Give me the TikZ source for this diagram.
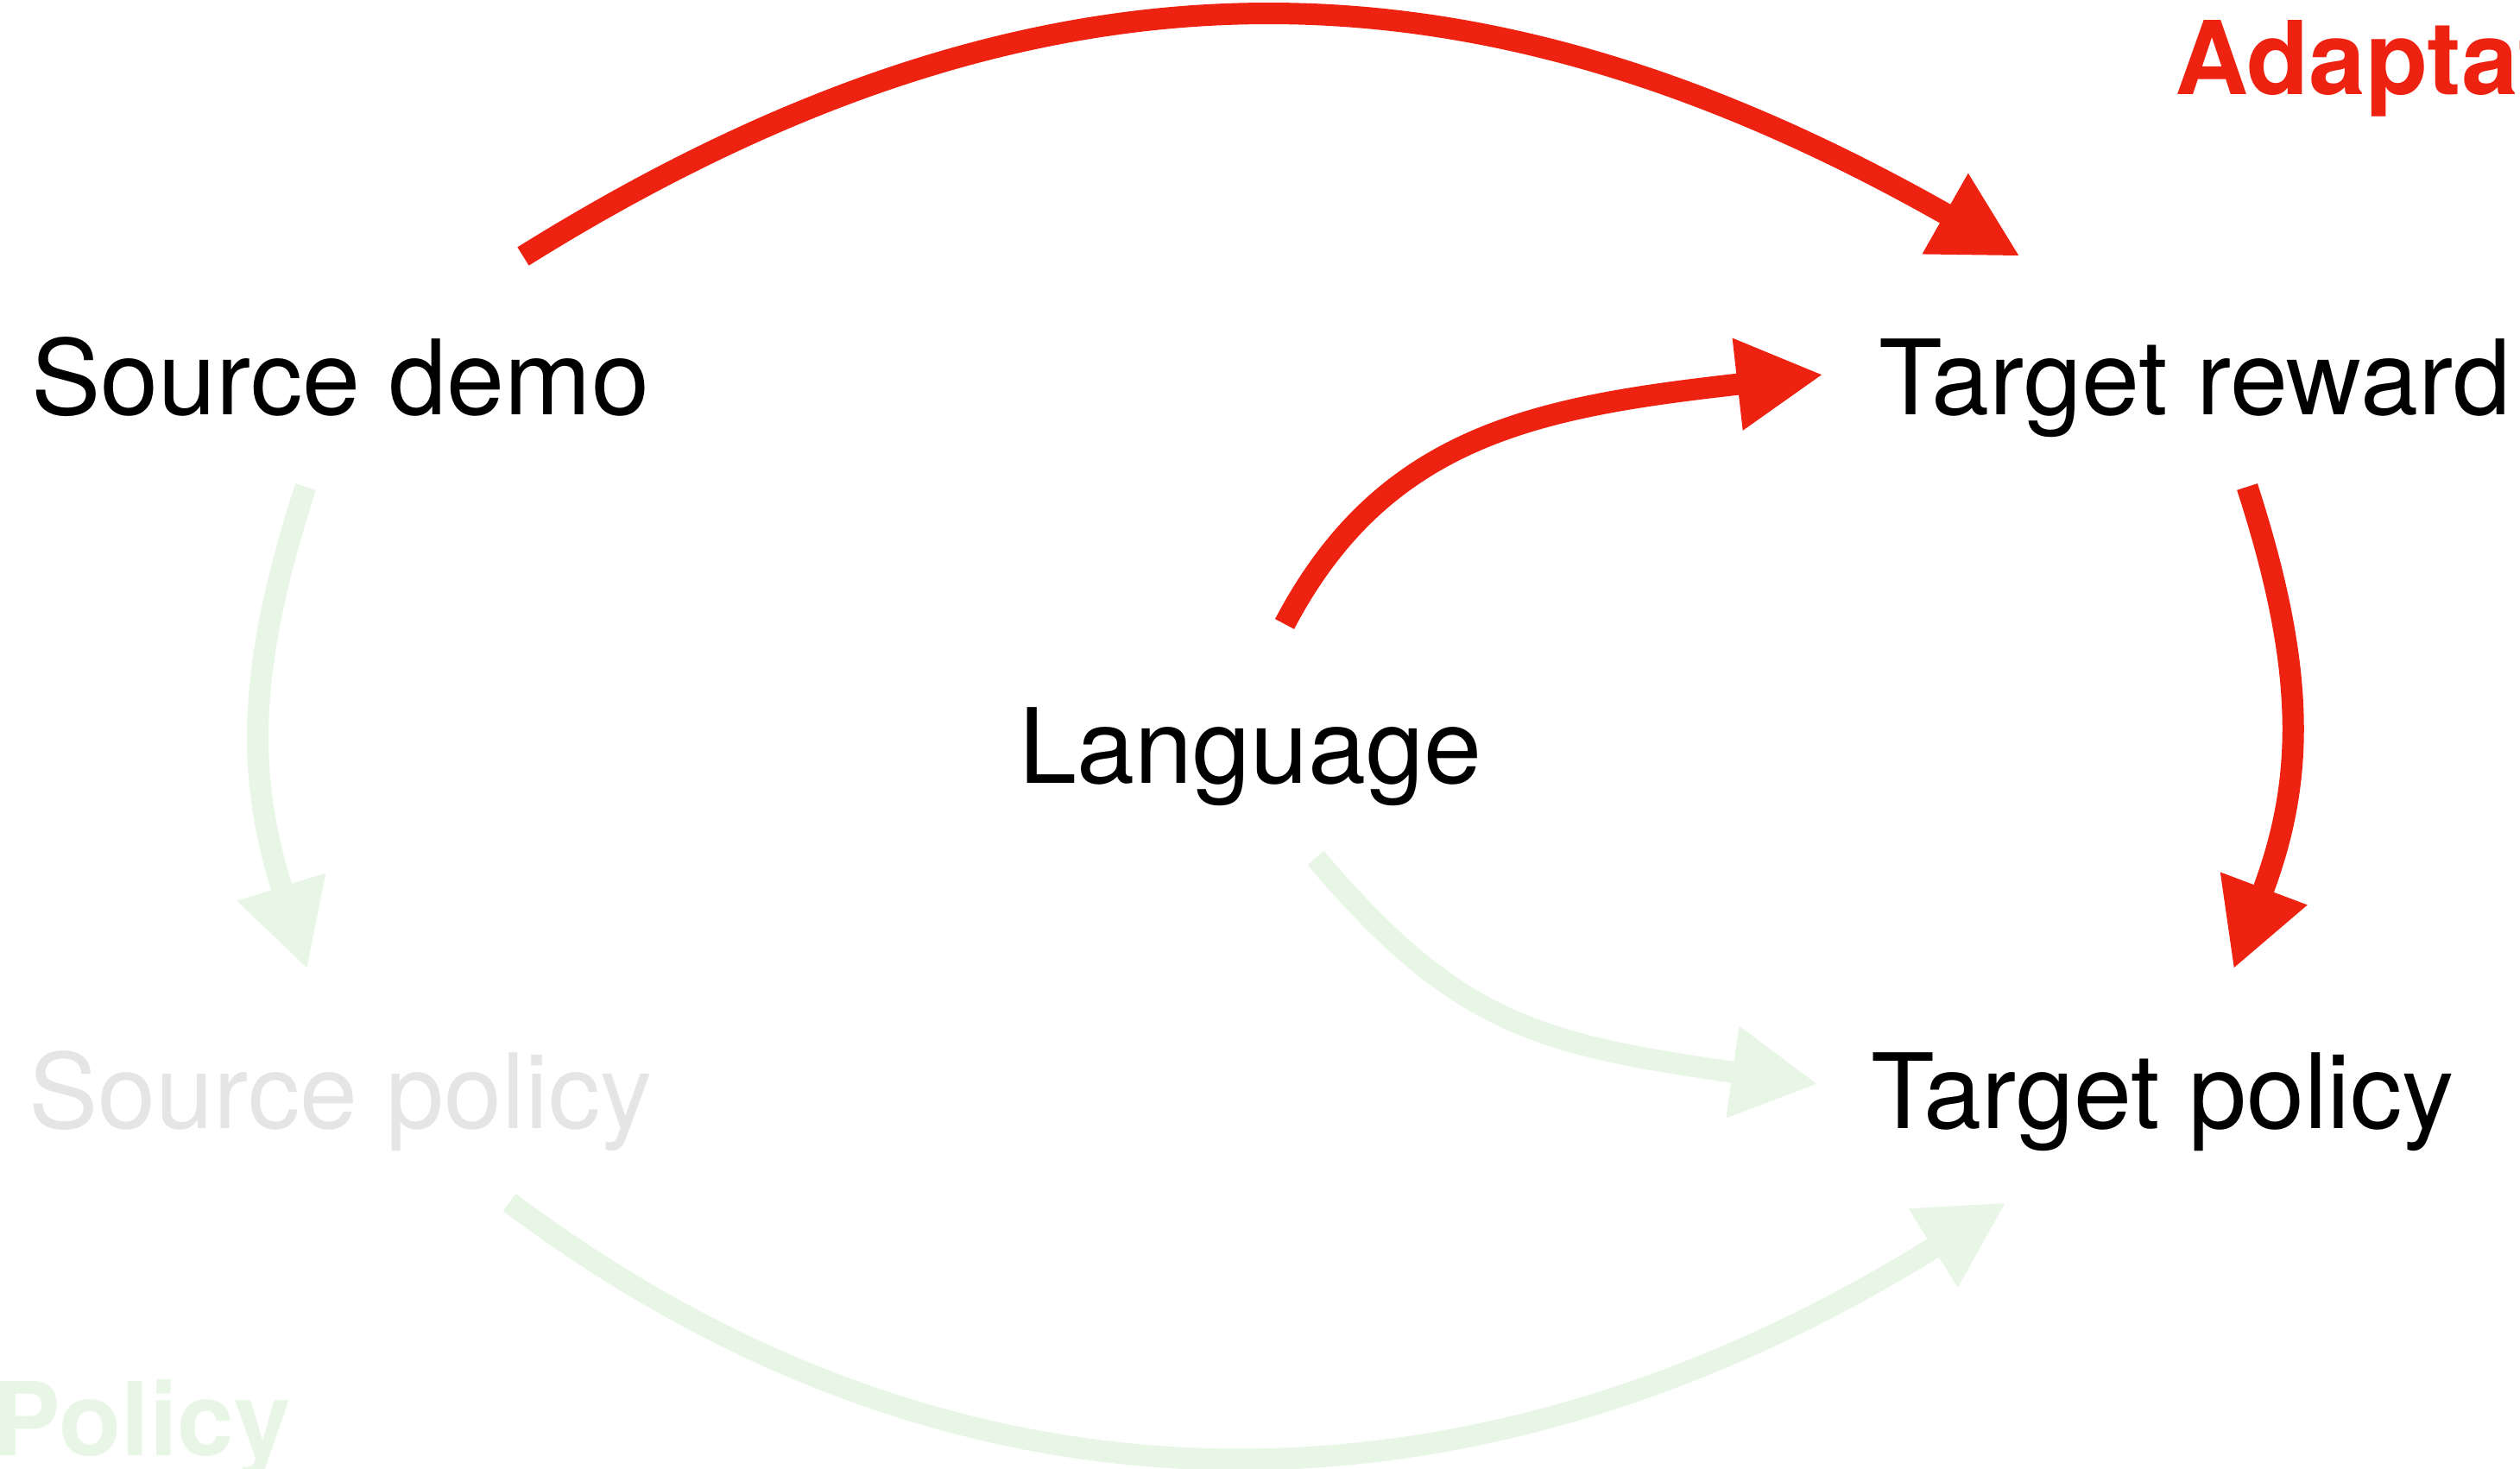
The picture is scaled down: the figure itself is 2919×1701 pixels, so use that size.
\documentclass[tikz,border=0pt]{standalone}
\usepackage{fontspec}
\setmainfont{TeX Gyre Heros}
\usetikzlibrary{arrows.meta}
\definecolor{adaptred}{RGB}{238,34,17}
\definecolor{policygreen}{RGB}{232,246,230}
\definecolor{fadedgray}{RGB}{229,229,229}
\begin{document}
\begin{tikzpicture}[x=1pt,y=-1pt,
  label/.style={anchor=base west,inner sep=0pt,font=\fontsize{120.5}{140}\selectfont},
  heading/.style={anchor=base west,inner sep=0pt,font=\fontsize{118}{140}\selectfont\bfseries},
  flow/.style={line width=25pt,-{Triangle[length=100pt,width=100pt]}},
  adapt/.style={flow,draw=adaptred},
  policy/.style={flow,draw=policygreen}]
\useasboundingbox (0,0) rectangle (2919,1701);
\clip (0,0) rectangle (2919,1701);

% group titles
\node[heading,text=adaptred] (ttl-adapt) at (2519,109) {Adaptation};
\node[heading,text=policygreen] (ttl-policy) at (-9,1686) {Policy};

% quantities
\node[label] (sd) at (36,480) {Source demo};
\node[label] (tr) at (2176,480) {Target reward};
\node[label] (lang) at (1180,907) {Language};
\node[label,text=fadedgray] (sp) at (33,1307) {Source policy};
\node[label] (tp) at (2167,1307) {Target policy};

% connector end points
\coordinate (sd-r) at (606,297);
\coordinate (tr-l) at (2340,297);
\coordinate (lang-u) at (1488,723);
\coordinate (tr-w) at (2112,434);
\coordinate (tr-d) at (2603,564);
\coordinate (tp-u) at (2587,1123);
\coordinate (sd-d) at (354,564);
\coordinate (sp-u) at (356,1123);
\coordinate (lang-d) at (1524,994);
\coordinate (tp-w) at (2106,1256);
\coordinate (sp-r) at (590,1393);
\coordinate (tp-l) at (2324,1393);

% policy route (faded)
\draw[policy] (sd-d) .. controls +(-71,219) and +(-69,-219) .. (sp-u);
\draw[policy] (lang-d) .. controls +(162,191) and +(-327,-46) .. (tp-w);
\draw[policy] (sp-r) .. controls +(551,413) and +(-584,365) .. (tp-l);

% adaptation route
\draw[adapt] (sd-r) .. controls +(609,-380) and +(-624,-355) .. (tr-l);
\draw[adapt] (lang-u) .. controls +(116,-221) and +(-328,37) .. (tr-w);
\draw[adapt] (tr-d) .. controls +(71,219) and +(81,-215) .. (tp-u);
\end{tikzpicture}
\end{document}
